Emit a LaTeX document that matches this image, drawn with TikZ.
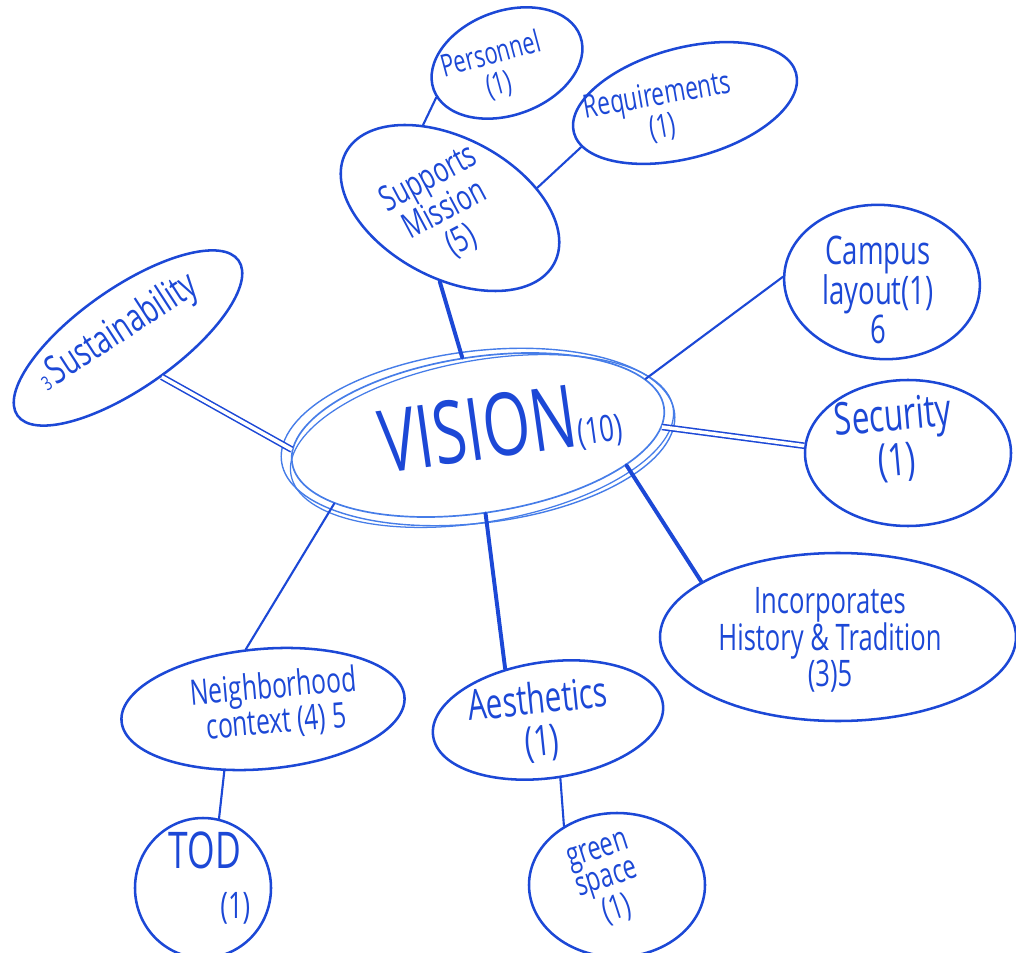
\documentclass[tikz,border=0pt]{standalone}
\usepackage{fontspec}
\newfontfamily\hand[FakeStretch=0.7]{Open Sans}
\usetikzlibrary{shapes.geometric}
\definecolor{ink}{RGB}{28,72,214}
\definecolor{inklt}{RGB}{70,125,232}
\newcommand\hsz[1]{\fontsize{#1}{#1}\selectfont}
\begin{document}
\begin{tikzpicture}[
  bub/.style={ellipse, draw=ink, line width=1.8pt, inner sep=0pt},
  lbl/.style={text=ink, font=\hand\hsz{#1}, align=center, inner sep=0pt},
  link/.style={draw=ink, line width=1.5pt, line cap=round},
  thicklink/.style={link, line width=2.8pt},
  dbllink/.style={draw=ink, line width=1.1pt, double=white, double distance=2.5pt}
]
\useasboundingbox (0,0) rectangle (25.4,23.8);
\clip (0,0) rectangle (25.4,23.8);

% central node
\node[bub, draw=inklt, line width=1.2pt, minimum width=9.4cm, minimum height=3.9cm, rotate=8.5] (vision) at (11.95,12.925) {};
\draw[inklt, line width=1pt, rotate around={7:(11.95,12.875)}] (11.95,12.875) ellipse [x radius=4.95cm, y radius=2.15cm];
\draw[inklt, line width=0.9pt, rotate around={10:(12.05,12.775)}] (12.05,12.775) ellipse [x radius=4.85cm, y radius=2.02cm];
\node[lbl=62, rotate=8] (visiontxt) at (12.5,13.1) {VISION{\hsz{26}(10)}};

% bubbles
\node[bub, minimum width=5.9cm, minimum height=3.5cm, rotate=-28] (sm) at (11.25,18.6) {};
\node[lbl=25, rotate=28] (smtxt) at (11.125,18.55) {Supports\\Mission\\(5)};

\node[bub, minimum width=3.9cm, minimum height=2.6cm, rotate=20] (personnel) at (12.675,22.225) {};
\node[lbl=22, rotate=15] (personneltxt) at (12.375,22.05) {Personnel\\(1)};

\node[bub, minimum width=5.75cm, minimum height=2.75cm, rotate=15] (req) at (17.125,21.225) {};
\node[lbl=23, rotate=10] (reqtxt) at (16.5,21.0) {Requirements\\(1)};

\node[bub, minimum width=6.75cm, minimum height=2.5cm, rotate=35] (sust) at (3.2,15.35) {};
\node[lbl=28, rotate=33] (susttxt) at (2.95,15.475) {{\hsz{14}3\,}Sustainability};

\node[bub, minimum width=4.9cm, minimum height=3.85cm, rotate=-5] (campus) at (22.05,16.75) {};
\node[lbl=28] (campustxt) at (21.95,16.55) {Campus\\layout(1)\\6};

\node[bub, minimum width=5.15cm, minimum height=3.65cm] (security) at (22.7,12.475) {};
\node[lbl=32, rotate=5] (securitytxt) at (22.375,12.8) {Security\\(1)};

\node[bub, minimum width=8.9cm, minimum height=4.2cm] (inc) at (20.95,7.875) {};
\node[lbl=26] (inctxt) at (20.75,7.8) {Incorporates\\History \& Tradition\\(3)5};

\node[bub, minimum width=7.1cm, minimum height=3.0cm, rotate=5] (nbh) at (6.575,6.075) {};
\node[lbl=25, rotate=5] (nbhtxt) at (6.875,6.175) {Neighborhood\\context (4) 5};

\node[bub, minimum width=5.8cm, minimum height=2.9cm, rotate=8] (aes) at (13.7,5.8) {};
\node[lbl=30, rotate=6] (aestxt) at (13.5,5.75) {Aesthetics\\(1)};

\node[bub, minimum width=3.4cm, minimum height=3.5cm] (tod) at (5.075,1.6) {};
\node[lbl=36] (todtxt) at (5.125,1.85) {TOD\\\hspace*{1.2em}{\hsz{26}(1)}};

\node[bub, minimum width=4.4cm, minimum height=3.6cm] (green) at (15.425,1.675) {};
\node[lbl=24, rotate=18, font=\hand\fontsize{24}{21}\selectfont] (greentxt) at (15.2,1.75) {green\\space\\(1)};

% connectors
\draw[link] (personnel.186.6) -- (sm.136);
\draw[link] (sm.41.6) -- (req.188.7);
\draw[thicklink] (sm.290) -- (vision.93.5);
\draw[dbllink] (sust.-84) -- (vision.176);
\draw[link] (vision.10.5) -- (campus.182.5);
\draw[dbllink] (vision.-6.5) -- (security.176.5);
\draw[thicklink] (vision.-20) -- (inc.158);
\draw[thicklink] (vision.-93) -- (aes.122);
\draw[link] (vision.197) -- (nbh.101);
\draw[link] (nbh.233) -- (tod.77);
\draw[link] (aes.-86) -- (green.132);
\end{tikzpicture}
\end{document}
